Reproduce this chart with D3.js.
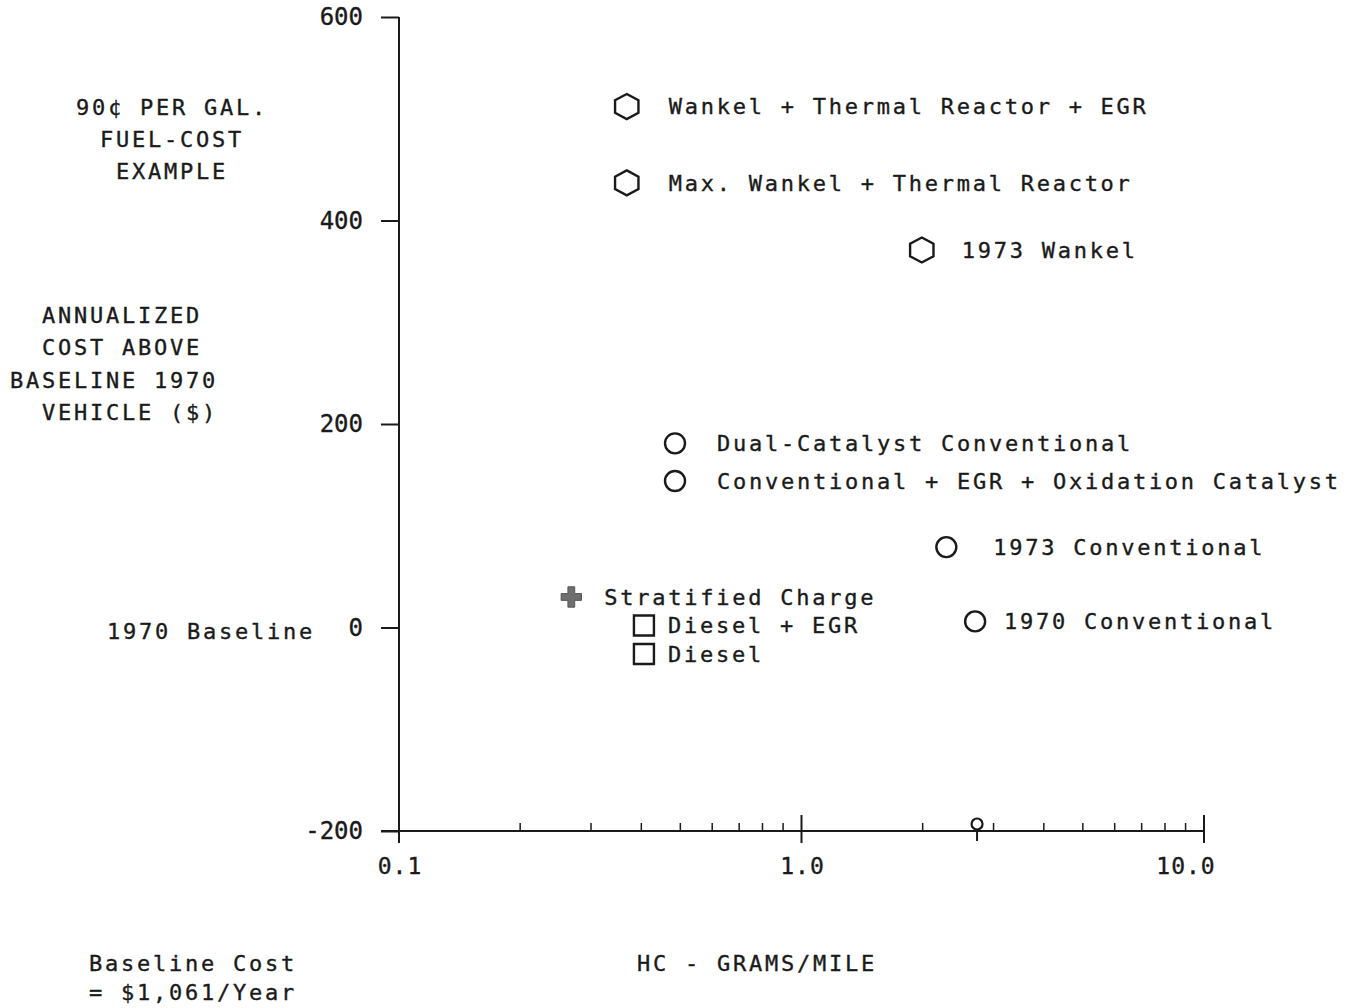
<!DOCTYPE html>
<html>
<head>
<meta charset="utf-8">
<script src="https://cdn.jsdelivr.net/npm/d3@7"></script>
<style>
  html, body { margin: 0; padding: 0; background: #fff; }
  svg text { font-family: "DejaVu Sans Mono", monospace; fill: #1a1a1a; stroke: #1a1a1a; stroke-width: 0.35px; white-space: pre; }
</style>
</head>
<body>
<svg id="chart" width="1345" height="1008"></svg>
<script>
// engine systems, HC emissions (g/mile) and annualized cost above 1970 baseline ($)
const engines = [
  'Wankel + Thermal Reactor + EGR',
  'Max. Wankel + Thermal Reactor',
  '1973 Wankel',
  'Dual-Catalyst Conventional',
  'Conventional + EGR + Oxidation Catalyst',
  '1973 Conventional',
  '1970 Conventional',
  'Stratified Charge',
  'Diesel + EGR',
  'Diesel'
];
const hcGramsPerMile = [0.368, 0.368, 1.99, 0.485, 0.485, 2.29, 2.70, 0.268, 0.406, 0.406];
const annualCost = [512, 437, 371, 181, 144, 79, 6, 30, 2, -26];
const markerShapes = ['hexagon', 'hexagon', 'hexagon', 'circle', 'circle', 'circle', 'circle', 'cross', 'square', 'square'];
const labelGap = [42, 42, 40, 42, 42, 47, 29, 33, 24, 24];

const yTicks = [600, 400, 200, 0, -200];
const xMajorTicks = [0.1, 1, 10];
const xMinorTicks = [0.2, 0.3, 0.4, 0.5, 0.6, 0.7, 0.8, 0.9, 2, 3, 4, 5, 6, 7, 8, 9];
const xTickLabels = ['0.1', '1.0', '10.0'];
const axisMarkerHC = [2.73];

const svg = d3.select('#chart');
const ink = '#1a1a1a';
const fontSize = 22;
const spacing = '2.75px';

const x = d3.scaleLog().domain([0.1, 10]).range([399, 1204]);
const y = d3.scaleLinear().domain([-200, 600]).range([831, 17]);

// y axis
const yAxis = d3.axisLeft(y).tickValues(yTicks).tickSize(18).tickPadding(18)
  .tickFormat(d => d === -200 ? '-200' : d);
const yG = svg.append('g').attr('transform', `translate(${x(0.1)},0)`).call(yAxis);
yG.select('.domain').remove();
yG.selectAll('.tick line').attr('stroke', ink).attr('stroke-width', 2);
yG.selectAll('.tick text')
  .attr('font-size', 24).attr('font-family', '"DejaVu Sans Mono", monospace')
  .style('letter-spacing', '0px').attr('fill', ink);
svg.append('line')
  .attr('x1', x(0.1)).attr('x2', x(0.1))
  .attr('y1', y(600)).attr('y2', y(-200) + 12)
  .attr('stroke', ink).attr('stroke-width', 2);

// x axis
svg.append('line')
  .attr('x1', x(0.1) - 18).attr('x2', x(10))
  .attr('y1', y(-200)).attr('y2', y(-200))
  .attr('stroke', ink).attr('stroke-width', 2);
svg.selectAll('.xmajor').data(xMajorTicks).join('line')
  .attr('class', 'xmajor')
  .attr('x1', d => x(d)).attr('x2', d => x(d))
  .attr('y1', y(-200) - 16).attr('y2', y(-200) + 12)
  .attr('stroke', ink).attr('stroke-width', 2);
svg.selectAll('.xminor').data(xMinorTicks).join('line')
  .attr('class', 'xminor')
  .attr('x1', d => x(d)).attr('x2', d => x(d))
  .attr('y1', y(-200) - 8).attr('y2', y(-200))
  .attr('stroke', ink).attr('stroke-width', 1.5);
svg.selectAll('.xlabel').data(xMajorTicks).join('text')
  .attr('class', 'xlabel')
  .attr('x', (d, i) => x(d) + (i === 2 ? -18 : 1))
  .attr('y', y(-200) + 43)
  .attr('text-anchor', 'middle')
  .attr('font-size', 23)
  .style('letter-spacing', '1px')
  .text((d, i) => xTickLabels[i]);

// small reference marker sitting on the x axis
const axisMark = svg.selectAll('.axismark').data(axisMarkerHC).join('g').attr('class', 'axismark');
axisMark.append('line')
  .attr('x1', d => x(d)).attr('x2', d => x(d))
  .attr('y1', y(-200)).attr('y2', y(-200) + 10)
  .attr('stroke', ink).attr('stroke-width', 2);
axisMark.append('circle')
  .attr('cx', d => x(d)).attr('cy', y(-200) - 7).attr('r', 5.5)
  .attr('fill', '#fff').attr('stroke', ink).attr('stroke-width', 2.2);

// markers
const hexagon = r => {
  const pts = d3.range(6).map(k => {
    const a = Math.PI / 3 * k - Math.PI / 2;
    return [r * Math.cos(a) * 1.08, r * Math.sin(a)];
  });
  return 'M' + pts.map(p => p.join(',')).join('L') + 'Z';
};
const shapePath = {
  hexagon: hexagon(12.5),
  circle: d3.symbol(d3.symbolCircle, Math.PI * 10 * 10)(),
  square: d3.symbol(d3.symbolSquare, 20 * 20)(),
  cross: d3.symbol(d3.symbolCross, 230)()
};

const points = engines.map((name, i) => ({
  name, hc: hcGramsPerMile[i], cost: annualCost[i], shape: markerShapes[i], gap: labelGap[i]
}));

const pt = svg.selectAll('.pt').data(points).join('g')
  .attr('class', 'pt')
  .attr('transform', d => `translate(${x(d.hc)},${y(d.cost)})`);
pt.append('path')
  .attr('d', d => shapePath[d.shape])
  .attr('fill', d => d.shape === 'cross' ? '#6f6f6f' : 'none')
  .attr('stroke', d => d.shape === 'cross' ? '#555' : ink)
  .attr('stroke-width', d => d.shape === 'cross' ? 1 : 2.4);
pt.append('text')
  .attr('x', d => d.gap)
  .attr('dy', '0.36em')
  .attr('font-size', fontSize)
  .style('letter-spacing', spacing)
  .text(d => d.name);

// annotations
const note = (lines, x0, y0, anchor, step) => {
  svg.append('g').selectAll('text').data(lines).join('text')
    .attr('x', x0).attr('y', (d, i) => y0 + i * step)
    .attr('dy', '0.36em')
    .attr('text-anchor', anchor)
    .attr('font-size', fontSize)
    .style('letter-spacing', spacing)
    .text(d => d);
};
note(['90¢ PER GAL.', 'FUEL-COST', 'EXAMPLE'], 172, 107, 'middle', 32);
note(['  ANNUALIZED', '  COST ABOVE', 'BASELINE 1970', '  VEHICLE ($)'], 10, 315, 'start', 32.5);
note(['1970 Baseline'], 107, y(0) + 4, 'start', 0);
note(['Baseline Cost', '= $1,061/Year'], 89, 963, 'start', 29);
note(['HC - GRAMS/MILE'], 637, 963, 'start', 0);
</script>
</body>
</html>
